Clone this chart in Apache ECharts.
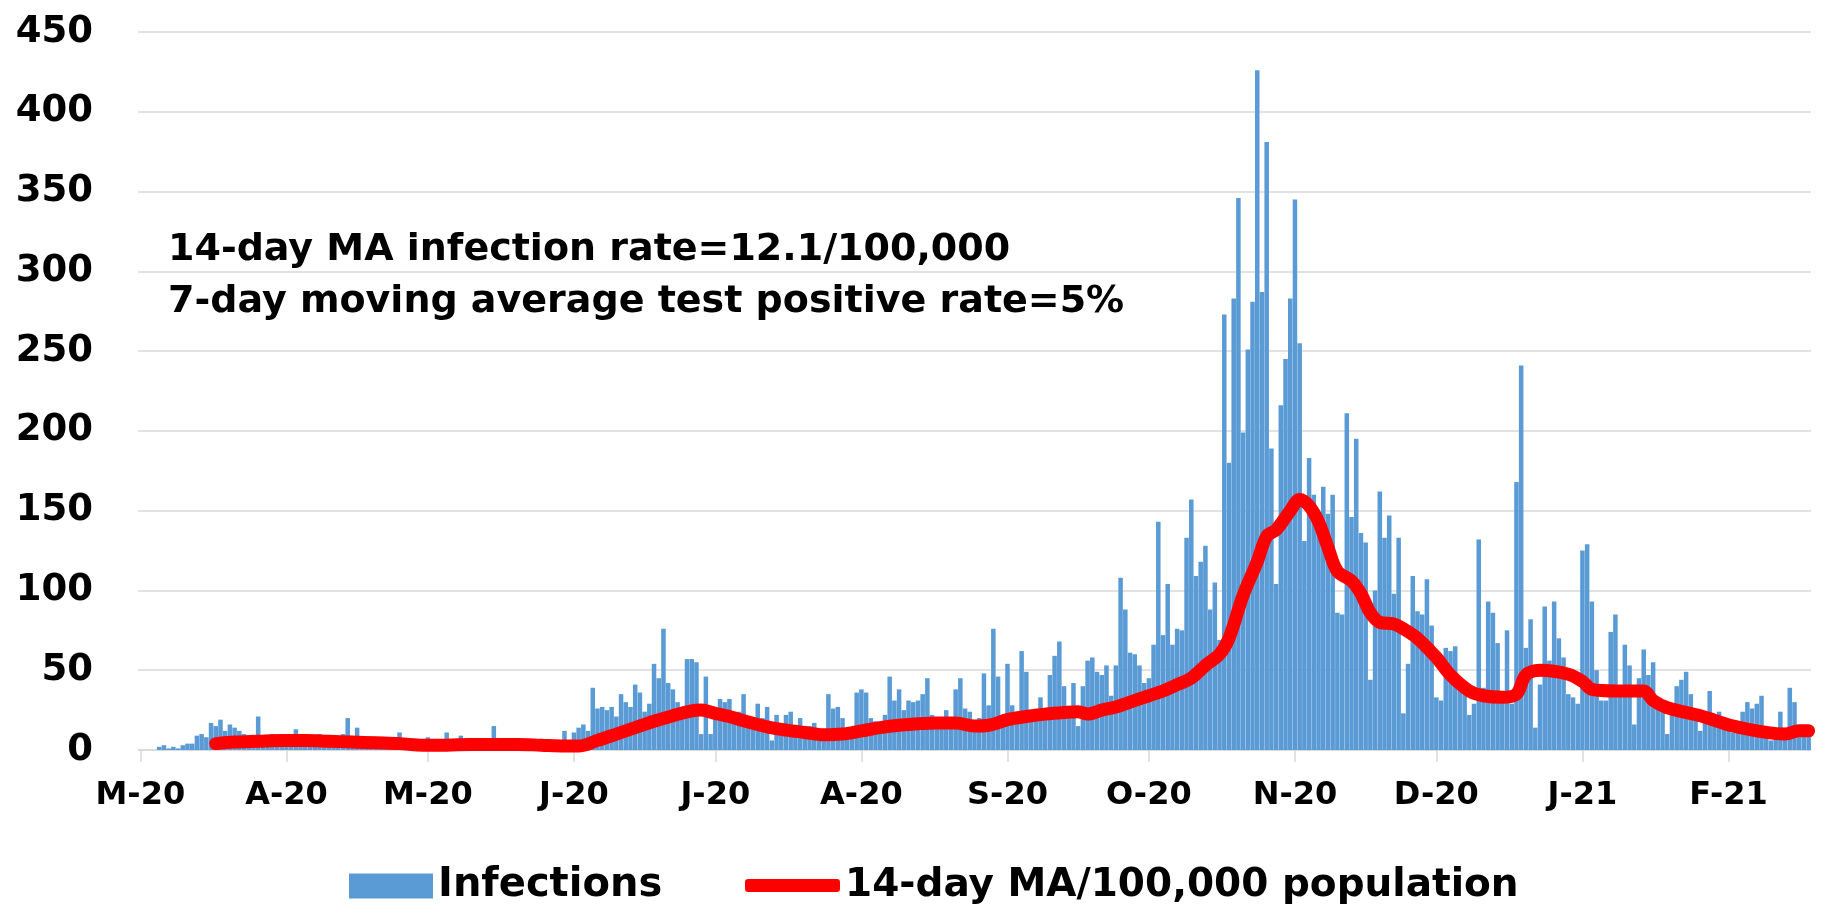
<!DOCTYPE html>
<html>
<head>
<meta charset="utf-8">
<style>
  html, body { margin: 0; padding: 0; background: #ffffff; }
  #chart { width: 1825px; height: 916px; }
</style>
<script src="https://cdn.jsdelivr.net/npm/echarts@6/dist/echarts.min.js"></script>
</head>
<body>
<div id="chart"></div>
<script>
// ---- Daily infections, one array per month ----
const infMar20 = [0,0,0,0,2,3,1,2,1,3,4,4,9,10,8,17,15,19,12,16,14,12,10,9,8,21,9,8,10,9,8];
const infApr20 = [8,10,13,9,8,7,9,10,8,7,9,8,10,20,8,14,7,6,8,7,6,5,7,6,11,5,6,4,5,6];
const infMay20 = [8,4,5,3,11,4,5,9,6,5,7,6,5,6,15,6,5,4,6,5,4,5,3,4,5,4,3,5,4,12,6];
const infJun20 = [11,14,16,12,39,26,27,25,27,21,35,30,27,41,36,24,29,54,45,76,42,38,30,25,57,57,55,10,46,10];
const infJul20 = [20,32,30,32,22,24,35,18,16,29,20,27,6,22,15,22,24,14,20,12,15,17,10,12,35,26,27,20,12,14,36];
const infAug20 = [38,36,20,18,15,22,46,31,38,25,31,30,31,35,45,22,20,18,25,20,38,45,26,24,18,20,48,28,76,46,22];
const infSep20 = [54,28,24,62,49,25,22,33,26,47,59,68,40,27,42,15,40,56,58,49,47,53,34,53,108,88,61,60,53,42];
const infOct20 = [45,66,143,72,104,66,76,75,133,157,109,118,128,88,105,69,273,180,283,346,199,251,281,426,287,381,189,104,216,245,283];
const infNov20 = [345,255,131,183,160,141,165,148,160,86,85,211,146,195,136,130,44,100,162,133,147,98,133,23,54,109,87,85,107,78];
const infDec20 = [33,31,64,62,65,38,37,22,29,132,39,93,86,67,35,75,29,168,241,64,82,14,41,90,56,93,70,58,35,33,29];
const infJan21 = [125,129,93,50,31,31,74,85,39,66,53,16,45,63,47,55,29,29,10,22,40,44,49,35,20,12,18,37,19,24,15];
const infFeb21 = [12,11,14,24,30,26,29,34,14,6,12,24,10,39,30,12,10,10];

// ---- 14-day MA per 100,000 (read at sampled dates) ----
const maDates = ['2020-03-17','2020-03-21','2020-03-26','2020-03-31','2020-04-05','2020-04-10','2020-04-15','2020-04-20','2020-04-25','2020-04-30',
  '2020-05-05','2020-05-10','2020-05-15','2020-05-20','2020-05-25','2020-05-30','2020-06-02','2020-06-06','2020-06-10','2020-06-14',
  '2020-06-18','2020-06-22','2020-06-26','2020-06-28','2020-07-01','2020-07-04','2020-07-08','2020-07-12','2020-07-16','2020-07-20',
  '2020-07-24','2020-07-28','2020-08-01','2020-08-05','2020-08-09','2020-08-13','2020-08-17','2020-08-21','2020-08-25','2020-08-28',
  '2020-09-01','2020-09-05','2020-09-09','2020-09-13','2020-09-16','2020-09-18','2020-09-21','2020-09-24','2020-09-27','2020-10-01',
  '2020-10-04','2020-10-07','2020-10-10','2020-10-13','2020-10-16','2020-10-18','2020-10-21','2020-10-24','2020-10-26','2020-10-28',
  '2020-10-31','2020-11-02','2020-11-04','2020-11-06','2020-11-08','2020-11-10','2020-11-13','2020-11-15','2020-11-17','2020-11-19',
  '2020-11-22','2020-11-24','2020-11-27','2020-12-01','2020-12-04','2020-12-08','2020-12-11','2020-12-15','2020-12-18','2020-12-20',
  '2020-12-23','2020-12-29','2021-01-01','2021-01-03','2021-01-08','2021-01-14','2021-01-16','2021-01-19','2021-01-26','2021-02-02',
  '2021-02-09','2021-02-13','2021-02-16','2021-02-18'];
const maValues = [4,5,5.5,6,6,5.5,5,4.5,4,3,
  3,3.5,3.5,3.5,3,2.5,2.5,6,10,14,
  18,21.5,24.5,25,23,21,17.5,14.5,12.5,11,
  9.5,10,12,14,15.5,16.5,17,17,15,15.5,
  19,21,22.5,23.5,24,22.5,25,27,30,34,
  37,41,45,53,60,70,97,118,134,138,
  150,157,153,143,127,112,106,98,86,80,
  79,76,70,58,47,37,34,33,35,47,
  50,47.5,43,38,37,37,31,26.5,21.5,15,
  11,10,12,12];

// ---- Tick label pieces ----
const monthLetters = ['J','F','M','A','M','J','J','A','S','O','N','D'];
const yTicks = { min: 0, max: 450, step: 50 };
const annotationLines = ['14-day MA infection rate=12.1/100,000', '7-day moving average test positive rate=5%'];
const seriesNames = ['Infections', '14-day MA/100,000 population'];

const infections = [].concat(infMar20, infApr20, infMay20, infJun20, infJul20, infAug20,
  infSep20, infOct20, infNov20, infDec20, infJan21, infFeb21);

const categories = infections.map((_, i) => new Date(Date.UTC(2020, 2, 1 + i)).toISOString().slice(0, 10));
const isMonthStart = (idx, val) => val.slice(8, 10) === '01';

const FONT = '"DejaVu Sans", "Liberation Sans", Arial, sans-serif';

const chart = echarts.init(document.getElementById('chart'));
chart.setOption({
  animation: false,
  backgroundColor: '#ffffff',
  grid: { left: 138, right: 14, top: 32, bottom: 166, containLabel: false },
  xAxis: {
    type: 'category',
    data: categories,
    boundaryGap: true,
    axisLine: { show: true, lineStyle: { color: '#d9d9d9', width: 1.5 } },
    axisTick: { show: true, interval: isMonthStart, alignWithLabel: true, length: 12, lineStyle: { color: '#d9d9d9', width: 1.5 } },
    axisLabel: {
      interval: isMonthStart,
      margin: 30,
      color: '#000000',
      fontFamily: FONT,
      fontWeight: 'bold',
      fontSize: 32,
      formatter: v => monthLetters[parseInt(v.slice(5, 7), 10) - 1] + '-' + v.slice(2, 4)
    },
    splitLine: { show: false }
  },
  yAxis: {
    type: 'value',
    min: yTicks.min, max: yTicks.max, interval: yTicks.step,
    axisLine: { show: false },
    axisTick: { show: false },
    axisLabel: { margin: 45, color: '#000000', fontFamily: FONT, fontWeight: 'bold', fontSize: 37 },
    splitLine: { show: true, lineStyle: { color: '#d9d9d9', width: 1.5 } }
  },
  legend: [
    {
      data: [{ name: seriesNames[0], icon: 'rect' }],
      left: 344, top: 861,
      itemWidth: 84, itemHeight: 25,
      textStyle: { color: '#000000', fontFamily: FONT, fontWeight: 'bold', fontSize: 40 },
      selectedMode: false
    },
    {
      data: [{ name: seriesNames[1], icon: 'roundRect' }],
      left: 740, top: 861,
      itemWidth: 95, itemHeight: 13,
      itemStyle: { color: '#ff0000' },
      textStyle: { color: '#000000', fontFamily: FONT, fontWeight: 'bold', fontSize: 39 },
      selectedMode: false
    }
  ],
  graphic: [
    { type: 'text', left: 168, top: 231, style: { text: annotationLines[0], fill: '#000000', font: 'bold 38px ' + FONT } },
    { type: 'text', left: 168, top: 283, style: { text: annotationLines[1], fill: '#000000', font: 'bold 38px ' + FONT } }
  ],
  series: [
    {
      name: seriesNames[0],
      type: 'bar',
      data: infections,
      barCategoryGap: '4%',
      itemStyle: { color: '#5b9bd5' },
      z: 2
    },
    {
      name: seriesNames[1],
      type: 'line',
      data: maDates.map((d, i) => [d, maValues[i]]),
      symbol: 'none',
      smooth: 0.35,
      lineStyle: { color: '#ff0000', width: 13, cap: 'round', join: 'round' },
      itemStyle: { color: '#ff0000' },
      z: 3
    }
  ]
});
</script>
</body>
</html>
